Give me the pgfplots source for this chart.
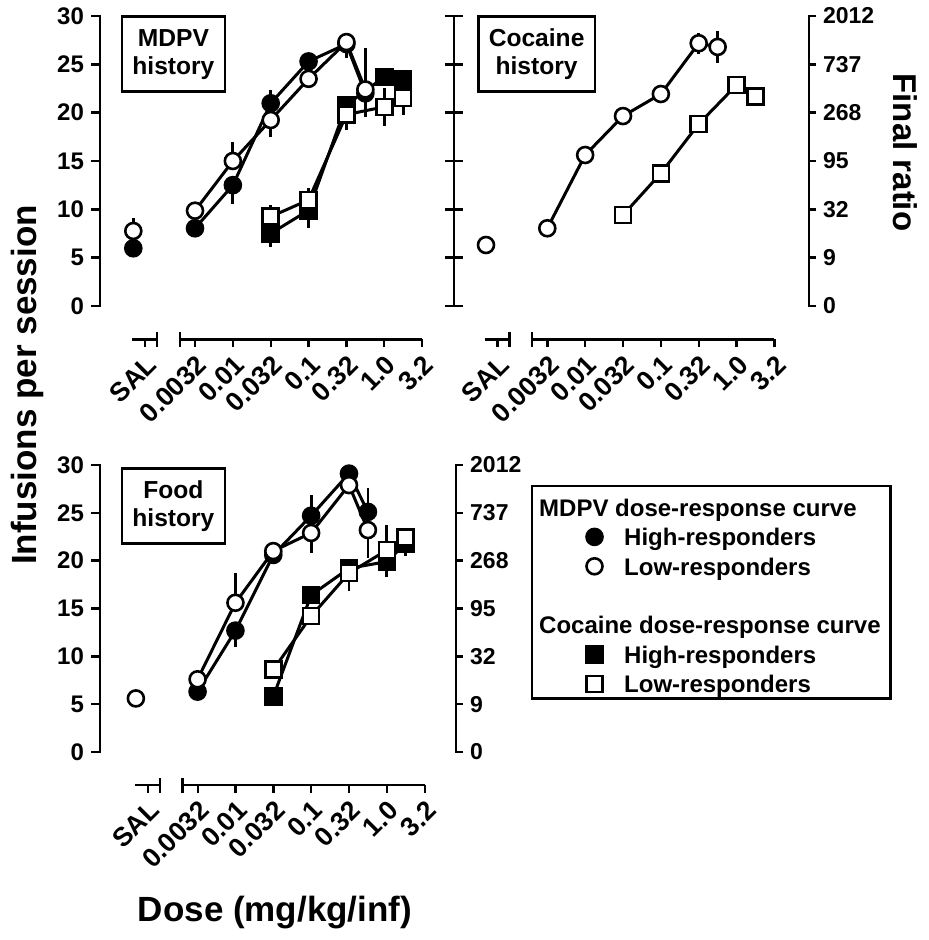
\documentclass[border=0pt]{standalone}
\usepackage{pgfplots}
\pgfplotsset{compat=1.18}
\usepackage{fontspec}
\setmainfont{Liberation Sans}
\newcommand{\tfont}{\bfseries\fontsize{12}{14}\selectfont}
\newcommand{\rfont}{\bfseries\fontsize{11.5}{13}\selectfont}
\newcommand{\xfont}{\bfseries\fontsize{13.3}{15}\selectfont}
\newcommand{\lfont}{\bfseries\fontsize{17.5}{20}\selectfont}

\pgfplotsset{
  base/.style={clip=false, axis x line=none, ymin=0, ymax=30,
    ytick={0,5,10,15,20,25,30}, x=18.925pt, anchor=south west,
    axis line style={line width=1.2pt, line cap=rect},
    tick style={line width=1.2pt, black},
    tick label style={font=\tfont},
    /pgf/number format/assume math mode=true},
  xseg/.style={x=18.925pt, y=1pt, ymin=0, ymax=1, axis y line=none,
    axis x line*=bottom, anchor=south west, clip=false,
    axis line style={line width=1.2pt},
    tick style={line width=1.2pt, black},
    tick align=outside, major tick length=4pt,
    xticklabel style={font=\xfont, rotate=45, anchor=north east, inner sep=2pt},
    extra x tick style={tick align=center, major tick length=7.5pt},
    extra x tick labels={\relax}},
  dat/.style={black, line width=1.5pt, mark size=4pt,
    error bars/y dir=both, error bars/y explicit, error bars/error mark=none,
    error bars/error bar style={line width=1.4pt, black, solid}},
  hc/.style={dat, mark=*, mark options={solid, fill=black, draw=black, line width=1.3pt}},
  lc/.style={dat, mark=*, mark options={solid, fill=white, draw=black, line width=1.3pt}},
  hs/.style={dat, mark=square*, mark options={solid, fill=black, draw=black, line width=1.3pt}},
  ls/.style={dat, mark=square*, mark options={solid, fill=white, draw=black, line width=1.3pt}},
  legmark/.style={only marks, black, mark size=4pt,
    legend image code/.code={\path[draw=none, fill=none] (0pt,-4pt) rectangle (41pt,4pt);
      \draw[##1] plot coordinates {(29.15pt,-1.6pt)};}},
}

\begin{document}
\begin{tikzpicture}[font=\bfseries]
\path[use as bounding box] (0pt,0pt) rectangle (464pt,-470pt);

% ---------------- Panel A: MDPV history ----------------
\begin{axis}[base, at={(50pt,-153pt)}, y=4.8333pt, xmin=-2.51, xmax=6.3,
  axis y line*=left, tick align=outside, major tick length=4.5pt]
\addplot[hs] coordinates {(2,7.5) += (0,0) -= (0,1.4) (3,9.9) += (0,0) -= (0,1.8)
  (4,20.8) += (0,0) -= (0,2.6) (5,23.7) (5.5,23.4)};
\addplot[ls] coordinates {(2,9.24) += (0,1.2) -= (0,0) (3,10.97) += (0,1.25) -= (0,0)
  (4,19.8) (5,20.6) +- (0,1.95) (5.5,21.5) += (0,0) -= (0,1.7)};
\addplot[hc, only marks] coordinates {(-1.63,5.97)};
\addplot[hc] coordinates {(0,8.04) (1,12.5) += (0,0) -= (0,1.9) (2,20.97) += (0,1.33) -= (0,0)
  (3,25.3) (4,27.1) (4.5,22.0) += (0,4.7) -= (0,0)};
\addplot[lc, only marks] coordinates {(-1.63,7.76) += (0,1.3) -= (0,0)};
\addplot[lc] coordinates {(0,9.86) (1,15.0) += (0,2.0) -= (0,0) (2,19.24) += (0,0) -= (0,1.74)
  (3,23.5) (4,27.3) += (0,0) -= (0,1.65) (4.5,22.4) += (0,0) -= (0,2.8)};
\end{axis}
\begin{axis}[xseg, at={(66.1pt,-169.65pt)}, xmin=-1.66, xmax=-1.0,
  xtick={-1.32}, xticklabels={SAL}, extra x ticks={-1.0}]
\end{axis}
\begin{axis}[xseg, at={(89.93pt,-169.65pt)}, xmin=-0.4, xmax=6,
  xtick={0,1,2,3,4,5,6}, xticklabels={0.0032,0.01,0.032,0.1,0.32,1.0,3.2},
  extra x ticks={-0.4}]
\end{axis}

% ---------------- Panel B: Cocaine history ----------------
\begin{axis}[base, at={(227pt,-153pt)}, y=4.8333pt, xmin=-2.465, xmax=6.914,
  axis y line*=left, tick align=center, major tick length=9pt,
  yticklabels={,,,,,,}]
\addplot[ls] coordinates {(2,9.41) (3,13.73) (4,18.83) (5,22.86) (5.5,21.65) +- (0,0.95)};
\addplot[lc, only marks] coordinates {(-1.62,6.31)};
\addplot[lc] coordinates {(0,8.04) (1,15.62) (2,19.65) (3,21.93) (4,27.18) +- (0,1.1)
  (4.5,26.8) +- (0,1.65)};
\end{axis}
\begin{axis}[base, at={(227pt,-153pt)}, y=4.8333pt, xmin=-2.465, xmax=6.914,
  axis y line*=right, tick align=outside, major tick length=3.5pt,
  yticklabels={0,9,32,95,268,737,2012}, yticklabel style={anchor=west, font=\rfont}]
\end{axis}
\begin{axis}[xseg, at={(242.25pt,-169.65pt)}, xmin=-1.66, xmax=-1.0,
  xtick={-1.32}, xticklabels={SAL}, extra x ticks={-1.0}]
\end{axis}
\begin{axis}[xseg, at={(266.1pt,-169.65pt)}, xmin=-0.4, xmax=6,
  xtick={0,1,2,3,4,5,6}, xticklabels={0.0032,0.01,0.032,0.1,0.32,1.0,3.2},
  extra x ticks={-0.4}]
\end{axis}

% ---------------- Panel C: Food history ----------------
\begin{axis}[base, at={(50pt,-376pt)}, y=4.7835pt, xmin=-2.578, xmax=6.83,
  axis y line*=left, tick align=outside, major tick length=4.5pt]
\addplot[hs] coordinates {(2,5.8) (3,16.4) += (0,0.9) -= (0,0) (4,19.2)
  (5,19.9) += (0,0) -= (0,1.6) (5.5,21.8) += (0,0) -= (0,1.3)};
\addplot[ls] coordinates {(2,8.6) (3,14.2) (4,18.7) += (0,0) -= (0,1.9)
  (5,21.1) += (0,2.6) -= (0,0) (5.5,22.4)};
\addplot[hc] coordinates {(0,6.31) (1,12.69) += (0,0) -= (0,1.7) (2,20.6)
  (3,24.7) += (0,2.2) -= (0,0) (4,29.1) (4.5,25.1) += (0,2.5) -= (0,0)};
\addplot[lc, only marks] coordinates {(-1.63,5.6)};
\addplot[lc] coordinates {(0,7.6) (1,15.6) += (0,3.1) -= (0,0) (2,21.0)
  (3,22.9) += (0,0) -= (0,2.05) (4,27.9) (4.5,23.2) += (0,0) -= (0,2.9)};
\end{axis}
\begin{axis}[base, at={(50pt,-376pt)}, y=4.7835pt, xmin=-2.578, xmax=6.83,
  axis y line*=right, tick align=outside, major tick length=3.5pt,
  yticklabels={0,9,32,95,268,737,2012}, yticklabel style={anchor=west, font=\rfont},
  legend cell align=left,
  legend style={at={(axis description cs:1.2103,0.93)}, anchor=north west,
    draw=black, line width=1.2pt, inner xsep=2pt, inner ysep=3pt,
    font=\bfseries\fontsize{12}{14}\selectfont,
    nodes={inner xsep=3pt, inner ysep=0pt, text height=12pt, text depth=0pt},
    row sep=2.7pt,
    /tikz/every odd column/.append style={column sep=0pt}}]
\addlegendimage{empty legend}
\addlegendentry{\hspace*{-42.5pt}MDPV dose-response curve}
\addlegendimage{legmark, mark=*, mark options={fill=black, line width=1.3pt}}
\addlegendentry{High-responders}
\addlegendimage{legmark, mark=*, mark options={fill=white, line width=1.3pt}}
\addlegendentry{Low-responders}
\addlegendimage{empty legend}
\addlegendentry{}
\addlegendimage{empty legend}
\addlegendentry{\hspace*{-42.5pt}Cocaine dose-response curve}
\addlegendimage{legmark, mark=square*, mark options={fill=black, line width=1.3pt}}
\addlegendentry{High-responders}
\addlegendimage{legmark, mark=square*, mark options={fill=white, line width=1.3pt}}
\addlegendentry{Low-responders}
\end{axis}
\begin{axis}[xseg, at={(67.45pt,-392.5pt)}, xmin=-1.66, xmax=-1.0,
  xtick={-1.32}, xticklabels={SAL}, extra x ticks={-1.0}]
\end{axis}
\begin{axis}[xseg, at={(91.28pt,-392.5pt)}, xmin=-0.4, xmax=6,
  xtick={0,1,2,3,4,5,6}, xticklabels={0.0032,0.01,0.032,0.1,0.32,1.0,3.2},
  extra x ticks={-0.4}]
\end{axis}

% ---------------- labels ----------------
\node[draw, line width=1.2pt, minimum width=51.7pt, minimum height=37.5pt, align=center,
  font=\bfseries\fontsize{12.3}{14}\selectfont] at (86.7pt,-27.1pt) {MDPV\\history};
\node[draw, line width=1.2pt, minimum width=58.3pt, minimum height=37.5pt, align=center,
  font=\bfseries\fontsize{12.3}{14}\selectfont] at (268.3pt,-27.1pt) {Cocaine\\history};
\node[draw, line width=1.2pt, minimum width=51.7pt, minimum height=37.5pt, align=center,
  font=\bfseries\fontsize{12.3}{14}\selectfont] at (86.7pt,-252.9pt) {Food\\history};
\node[rotate=90, font=\lfont] at (13.5pt,-192.5pt) {Infusions per session};
\node[rotate=-90, font=\bfseries\fontsize{16.5}{19}\selectfont] at (452.5pt,-76.25pt) {Final ratio};
\node[font=\lfont] at (137.5pt,-456.5pt) {Dose (mg/kg/inf)};
\end{tikzpicture}
\end{document}
